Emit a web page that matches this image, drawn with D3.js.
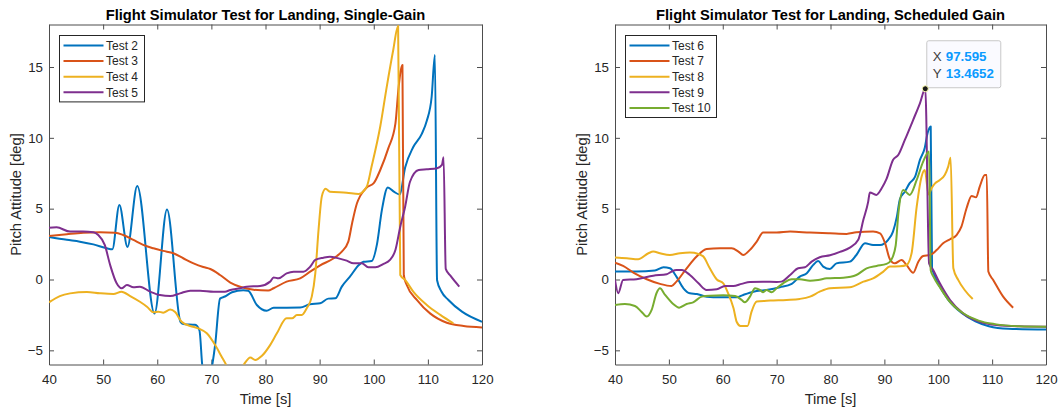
<!DOCTYPE html>
<html>
<head>
<meta charset="utf-8">
<script src="https://cdn.jsdelivr.net/npm/d3@7"></script>
<style>
  body { margin: 0; background: #fff; }
  svg { display: block; font-family: "Liberation Sans", Arial, Helvetica, sans-serif; }
</style>
</head>
<body>
<script>

// ---- data : [time s, pitch deg] ----

var xTicks = [40, 50, 60, 70, 80, 90, 100, 110, 120],
    yTicks = [-5, 0, 5, 10, 15];

var leftTitle = "Flight Simulator Test for Landing, Single-Gain",
    rightTitle = "Flight Simulator Test for Landing, Scheduled Gain";

var leftNames = ["Test 2", "Test 3", "Test 4", "Test 5"],
    rightNames = ["Test 6", "Test 7", "Test 8", "Test 9", "Test 10"];

var test2 = [[40,3.0],[43.3,2.8],[45.7,2.67],[48.2,2.48],[50.7,2.2],[51.7,2.13],[53.0,5.26],[54.5,2.3],[56.3,6.6],
  [59.5,-2.4],[61.8,4.95],[64.3,-3.0],[64.8,-3.15],[67.0,-3.2],[67.8,-3.6],[68.3,-6.0],[69.2,-7.8],[70.1,-6.2],
  [70.7,-4.6],[71.6,-1.35],[72.5,-1.2],[73.8,-0.9],[75.9,-0.75],[76.8,-0.8],[78.4,-1.8],[80.2,-2.2],[81.5,-2.0],
  [86.4,-1.98],[88.2,-1.75],[90.1,-1.68],[91.6,-1.35],[92.9,-1.33],[94.1,-0.5],[95.6,0.2],[97.2,1.0],[98.1,1.25],
  [99.6,1.3],[100.6,2.5],[101.5,4.9],[102.6,6.5],[103.7,6.2],[104.8,6.0],[105.8,7.9],[107.3,9.35],[108.9,10.3],
  [109.8,11.2],[110.7,12.9],[111.3,15.85],[111.7,-0.05],[112.5,-0.85],[113.8,-1.45],[116.3,-2.27],[120,-2.98]];

var test3 = [[40,3.07],[43.3,3.2],[46.3,3.3],[49.4,3.33],[52.2,3.3],[53.7,3.14],[55.6,2.79],[57.4,2.44],[59.3,2.2],
  [61.1,2.02],[63,1.85],[64.8,1.5],[66.7,1.14],[68.5,0.88],[69.8,0.74],[71.6,0.32],[73.5,-0.22],[75.3,-0.51],
  [77.8,-0.72],[80.5,-0.78],[81.5,-0.62],[83.9,-0.15],[86.4,0.08],[88.25,0.55],[90.1,1.0],[92.6,1.5],[94.1,1.97],
  [95.3,2.67],[96,3.97],[96.9,5.38],[97.5,5.9],[98.7,6.5],[100,6.8],[101.2,7.73],[102.7,9.27],[104,11.0],
  [104.6,13.6],[105.3,15.15],[105.55,0.3],[106.1,-0.39],[108,-1.45],[110.4,-2.39],[113.5,-3.05],[116.6,-3.28],[120,-3.38]];

var test4 = [[40,-1.61],[42,-1.17],[43.9,-0.98],[47,-0.88],[49.4,-0.97],[51.9,-1.02],[53.4,-0.86],[55,-1.17],
  [56.8,-1.57],[58.1,-1.92],[59.3,-2.32],[60.2,-2.27],[61.1,-2.34],[62.4,-2.12],[63.3,-2.3],[64.5,-2.98],[66.1,-3.28],
  [67.6,-3.45],[69.15,-3.8],[70.7,-4.63],[71.9,-5.45],[72.7,-6.0],[74.3,-7.2],[76.0,-6.0],[77.2,-5.5],[78.1,-5.68],
  [79.3,-5.4],[80.85,-4.63],[82.1,-3.8],[83.9,-2.74],[84.9,-2.74],[85.8,-2.51],[86.7,-2.5],[87.6,-2.04],[88.55,-1.21],
  [89.2,0.43],[89.8,3.5],[90.4,5.85],[91.1,6.4],[91.9,6.2],[95,6.13],[97.2,6.04],[98.7,6.55],[99.6,7.97],[101.2,10.8],
  [102.4,13.6],[103.6,16.2],[104.5,17.9],[104.9,0.32],[105.8,-0.03],[107.3,-0.86],[109.8,-1.8],[112.3,-2.5],[114.7,-3.1]];

var test5 = [[40,3.66],[41.4,3.68],[43.9,3.38],[46.3,3.38],[48.2,3.33],[49.1,3.14],[50.3,2.44],[51.3,1.02],[52.5,-0.27],
  [53.4,-0.62],[54.4,-0.39],[55.6,-0.55],[56.8,-0.51],[58.7,-0.86],[60.5,-1.1],[62.4,-1.17],[64.2,-0.98],[66.1,-0.79],
  [67.9,-0.79],[70.4,-0.86],[72.5,-0.86],[73.5,-0.74],[75.3,-0.62],[76.5,-0.51],[79,-0.46],[80.85,-0.15],[81.5,0.15],
  [82.4,0.08],[83.9,0.43],[85.2,0.55],[87,0.55],[88.25,0.9],[89.2,1.38],[90.7,1.54],[91.9,1.61],[93.5,1.49],[95,1.33],
  [96.25,1.14],[97.8,1.14],[99,0.86],[100.3,0.86],[101.8,1.1],[103,1.38],[104,2.08],[104.9,3.73],[105.8,5.14],
  [106.7,6.9],[108.3,7.73],[109.8,7.78],[111.7,7.85],[112.6,8.09],[112.9,8.63],[113.3,0.75],[114.2,0.25],[115.8,-0.5]];

var test6 = [[40,0.56],[44,0.56],[47.4,0.63],[49,0.86],[50.2,0.79],[51.4,0.2],[52.7,-0.62],[53.9,-0.97],[55.2,-1.02],
  [57,-1.21],[59.5,-1.26],[62.6,-1.26],[63.8,-1.09],[65.7,-0.86],[68.1,-0.74],[70.6,-0.55],[72.8,-0.31],[74.3,0.2],
  [75.6,0.44],[76.8,1.03],[77.7,1.3],[78.65,0.91],[79.9,0.74],[81.1,1.14],[83.6,1.26],[84.8,1.73],[86.4,2.56],
  [87.9,2.44],[89.2,2.44],[90.7,2.8],[91.6,3.38],[92.3,4.4],[92.9,5.7],[93.8,6.2],[94.7,6.8],[95.7,7.26],[96.6,8.44],
  [97.5,9.3],[98.0,10.3],[98.6,10.8],[98.85,0.8],[99.3,0.3],[100.3,-0.5],[101.8,-1.4],[104.3,-2.35],[106.9,-2.95],
  [109.4,-3.3],[113,-3.48],[120,-3.53]];

var test7 = [[40,1.19],[41.5,0.96],[43.4,0.49],[45.9,0.02],[48.35,-0.31],[50.5,-0.46],[51.4,-0.15],[53.3,0.79],
  [55.15,1.62],[57,2.16],[59.5,2.2],[61.65,2.2],[62.9,1.97],[63.8,1.73],[65.05,2.09],[66.3,2.67],[67.5,3.31],[70,3.31],
  [72.5,3.38],[76.2,3.31],[79.9,3.26],[83,3.22],[84.8,3.33],[87.9,3.38],[89.2,3.26],[90.1,2.6],[91,1.45],[91.95,1.14],
  [93.2,1.38],[94.1,1.03],[95.35,0.48],[96.3,1.26],[97.2,1.66],[98.45,1.73],[99.7,2.08],[100.9,2.56],[102.2,2.84],
  [103.4,3.14],[104.3,3.73],[105.25,5.03],[106.2,5.9],[107,5.8],[107.7,6.56],[108.65,7.38],[109.0,7.38],[109.3,0.56],
  [110.2,-0.03],[112.05,-1.21],[113.9,-1.99]];

var test8 = [[40,1.55],[42.2,1.5],[44.3,1.43],[46.2,1.85],[47.1,1.97],[48.35,1.85],[50.2,1.73],[52.05,1.85],[53.9,1.9],
  [55.5,1.8],[56.4,1.62],[57.6,0.79],[58.9,0.0],[60.1,-0.27],[61,-0.97],[62,-2.03],[62.6,-3.0],[63.3,-3.28],
  [64.6,-3.28],[65.35,-2.27],[66.3,-1.56],[68.8,-1.49],[71.85,-1.44],[74.3,-1.37],[76.2,-1.21],[78.0,-0.86],
  [79.9,-0.62],[83.6,-0.55],[86.1,-0.15],[87.9,0.08],[89.8,0.56],[91,0.91],[92.9,0.93],[94.1,1.02],[95.05,1.85],
  [96,5.14],[96.9,7.26],[97.5,7.73],[98.2,6.0],[98.75,6.44],[99.4,6.79],[100.3,7.03],[101.2,7.38],[101.85,7.97],
  [102.3,8.6],[102.8,0.79],[103.7,-0.03],[104.9,-0.74],[106.4,-1.38]];

var test9 = [[40,-0.03],[40.6,-0.97],[41.5,-0.03],[44,0.02],[47.1,0.27],[49.6,0.37],[50.5,0.56],[51.4,0.67],[52.4,0.67],
  [53.9,0.32],[55.5,-0.27],[57,-0.74],[58.9,-0.69],[60.4,-0.46],[61.95,-0.46],[63.5,-0.31],[65.05,-0.17],[67.5,-0.15],
  [70,-0.17],[70.9,-0.15],[72.5,0.32],[74,0.79],[75.25,0.86],[76.5,1.26],[78.0,1.57],[79.9,1.71],[81.75,1.95],
  [83.6,2.25],[85.15,2.8],[86.1,4.21],[87,5.5],[87.3,6.14],[88.5,5.97],[89.5,6.44],[90.4,7.1],[91.6,8.44],[92.6,8.8],
  [93.8,9.85],[95.35,11.27],[96.6,12.44],[97.595,13.4652],[98.3,1.14],[99.06,0.67],[100.3,-0.27],[102.2,-1.45],
  [104.6,-2.39],[107.7,-2.98],[110.8,-3.21],[115,-3.3],[120,-3.33]];

var test10 = [[40,-1.8],[41.85,-1.73],[43.7,-1.87],[44.9,-2.27],[45.9,-2.62],[46.8,-2.15],[47.7,-0.97],[48.35,-0.62],
  [49.3,-1.09],[50.8,-1.73],[51.9,-1.99],[53.3,-1.73],[54.5,-1.61],[56.1,-1.21],[57.6,-1.14],[60.1,-1.12],[62.3,-1.16],
  [63.5,-1.44],[64.1,-1.61],[65.05,-1.21],[66,-0.62],[66.9,-0.74],[67.5,-0.9],[68.1,-0.74],[69.1,-0.9],[70,-0.62],
  [71.2,-0.27],[72.8,0.02],[74.3,0.02],[76.2,-0.08],[77.7,-0.03],[79.3,0.08],[82.4,0.13],[84.8,0.32],[86.7,0.79],
  [88.55,0.96],[90.4,1.1],[91.3,1.4],[92.1,2.4],[92.6,4.67],[93.5,6.32],[94.7,5.97],[96,7.03],[97.2,8.32],[98.3,9.03],
  [98.6,0.65],[99.1,0.2],[100.3,-0.55],[102,-1.5],[104.5,-2.35],[107.5,-2.9],[110.5,-3.15],[115,-3.3],[120,-3.33]];

var dataTip = [97.595, 13.4652];

var colors = ["#0072BD", "#D95319", "#EDB120", "#7E2F8E", "#77AC30"];


// ---- drawing ----

var svg = d3.select("body").append("svg")
    .attr("width", 1059)
    .attr("height", 410);

function drawPanel(opt) {

    var x = d3.scaleLinear().domain([40, 120]).range([opt.left, opt.right]),
        y = d3.scaleLinear().domain([-6, 18]).range([364.5, 24.5]);

    var g = svg.append("g");

    g.append("clipPath").attr("id", opt.id)
      .append("rect")
        .attr("x", opt.left).attr("y", 24.5)
        .attr("width", opt.right - opt.left).attr("height", 340);

    // axes, ticks inside on all four sides (matlab box on)
    var axCol = "#4d4d4d";

    var bottom = g.append("g").attr("transform", "translate(0,364.5)")
        .call(d3.axisBottom(x).tickValues(xTicks).tickSizeInner(-5).tickSizeOuter(0).tickPadding(10));
    var top = g.append("g").attr("transform", "translate(0,24.5)")
        .call(d3.axisTop(x).tickValues(xTicks).tickSizeInner(-5).tickSizeOuter(0).tickFormat(""));
    var left = g.append("g").attr("transform", "translate(" + opt.left + ",0)")
        .call(d3.axisLeft(y).tickValues(yTicks).tickSizeInner(-5).tickSizeOuter(0).tickPadding(6));
    var right = g.append("g").attr("transform", "translate(" + opt.right + ",0)")
        .call(d3.axisRight(y).tickValues(yTicks).tickSizeInner(-5).tickSizeOuter(0).tickFormat(""));

    [bottom, top, left, right].forEach(function(a) {
        a.select(".domain").attr("stroke", axCol).attr("stroke-width", 1);
        a.selectAll(".tick line").attr("stroke", axCol);
        a.selectAll(".tick text")
            .attr("fill", "#262626")
            .style("font-size", "13.3px")
            .style("font-family", "'Liberation Sans', Arial, sans-serif");
    });

    // lines
    var line = d3.line()
        .x(function(d) { return x(d[0]); })
        .y(function(d) { return y(d[1]); })
        .curve(d3.curveMonotoneX);

    var lines = g.append("g").attr("clip-path", "url(#" + opt.id + ")");

    opt.series.forEach(function(s, i) {
        lines.append("path")
            .attr("d", line(s))
            .attr("fill", "none")
            .attr("stroke", colors[i])
            .attr("stroke-width", 2)
            .attr("stroke-linejoin", "round");
    });

    // title and labels
    g.append("text")
        .attr("x", (opt.left + opt.right) / 2).attr("y", 20)
        .attr("text-anchor", "middle")
        .style("font-size", "14.7px").style("font-weight", "bold")
        .attr("fill", "#000")
        .text(opt.title);

    g.append("text")
        .attr("x", (opt.left + opt.right) / 2).attr("y", 403.5)
        .attr("text-anchor", "middle")
        .style("font-size", "14.7px")
        .attr("fill", "#262626")
        .text("Time [s]");

    g.append("text")
        .attr("transform", "translate(" + (opt.left - 28) + ",194.5) rotate(-90)")
        .attr("text-anchor", "middle")
        .style("font-size", "14.7px")
        .attr("fill", "#262626")
        .text("Pitch Attitude [deg]");

    // legend
    var lx = opt.left + 10.5, ly = 35.5, rowH = 15.6;
    var leg = g.append("g");

    leg.append("rect")
        .attr("x", lx).attr("y", ly)
        .attr("width", opt.legendW).attr("height", opt.names.length * rowH + 4)
        .attr("fill", "#fff").attr("stroke", "#262626").attr("stroke-width", 1);

    opt.names.forEach(function(n, i) {
        var ry = ly + 10 + i * rowH;
        leg.append("line")
            .attr("x1", lx + 4).attr("x2", lx + 44)
            .attr("y1", ry).attr("y2", ry)
            .attr("stroke", colors[i]).attr("stroke-width", 2);
        leg.append("text")
            .attr("x", lx + 46.5).attr("y", ry + 4.3)
            .style("font-size", "12px")
            .attr("fill", "#262626")
            .text(n);
    });

    return { x: x, y: y, g: g };
}


drawPanel({
    id: "clipL", left: 49, right: 482, title: leftTitle,
    series: [test2, test3, test4, test5], names: leftNames, legendW: 85
});

var panelR = drawPanel({
    id: "clipR", left: 615, right: 1046, title: rightTitle,
    series: [test6, test7, test8, test9, test10], names: rightNames, legendW: 91
});


// data tip on test 9 peak
var px = panelR.x(dataTip[0]),
    py = panelR.y(dataTip[1]);

var tip = panelR.g.append("g");

tip.append("rect")
    .attr("x", px + 1.5).attr("y", py - 48)
    .attr("width", 74).attr("height", 47)
    .attr("rx", 2)
    .attr("fill", "#fafaff").attr("stroke", "#c8c8c8").attr("stroke-width", 1);

tip.append("text").attr("x", px + 7.5).attr("y", py - 27.5)
    .style("font-size", "13.3px").attr("fill", "#404040").text("X");
tip.append("text").attr("x", px + 20.5).attr("y", py - 27.5)
    .style("font-size", "13.3px").style("font-weight", "bold").attr("fill", "#0a9bff")
    .text(dataTip[0]);

tip.append("text").attr("x", px + 7.5).attr("y", py - 10.5)
    .style("font-size", "13.3px").attr("fill", "#404040").text("Y");
tip.append("text").attr("x", px + 20.5).attr("y", py - 10.5)
    .style("font-size", "13.3px").style("font-weight", "bold").attr("fill", "#0a9bff")
    .text(dataTip[1]);

tip.append("circle")
    .attr("cx", px).attr("cy", py).attr("r", 3)
    .attr("fill", "#1a1a1a").attr("stroke", "#ffffb0").attr("stroke-width", 1);

</script>
</body>
</html>
